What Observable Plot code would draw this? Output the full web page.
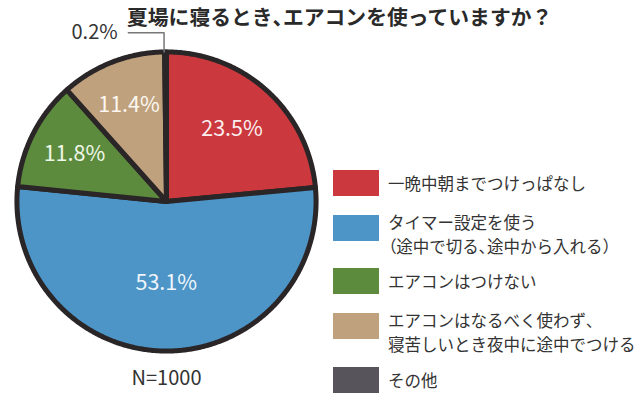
<!DOCTYPE html>
<html>
<head>
<meta charset="utf-8">
<script src="https://cdn.jsdelivr.net/npm/d3@7"></script>
<script src="https://cdn.jsdelivr.net/npm/@observablehq/plot@0.6"></script>
<style>
  body { margin: 0; background: #fff; font-family: "Noto Sans CJK JP", "Noto Sans", sans-serif; }
  #wrap { position: relative; width: 640px; height: 398px; overflow: hidden; background: #fff; }
  #chart { position: absolute; left: 0; top: 0; }
  #title { position: absolute; left: 127px; top: 1px; font-size: 20.8px; font-weight: 700; color: #2a2a2a; white-space: nowrap; }
  #legend { position: absolute; left: 333px; top: 170px; color: #333; font-size: 16.5px; }
  .item { position: absolute; left: 0; white-space: nowrap; }
  .sw { position: absolute; left: 0; width: 46px; height: 26px; }
  .lab { position: absolute; left: 55px; line-height: 24px; }
  .p { font-feature-settings: "palt" 1; }
</style>
</head>
<body>
<div id="wrap">
  <div id="chart"></div>
  <div id="title"></div>
  <div id="legend"></div>
</div>
<script>
const title = "夏場に寝るとき、エアコンを使っていますか？";
const categories = ["一晩中朝までつけっぱなし", "タイマー設定を使う\n（途中で切る、途中から入れる）", "エアコンはつけない", "エアコンはなるべく使わず、\n寝苦しいとき夜中に途中でつける", "その他"];
const values = [23.5, 53.1, 11.8, 11.4, 0.2];
const valueLabels = ["23.5%", "53.1%", "11.8%", "11.4%", "0.2%"];
const colors = ["#cb383d", "#4d94c7", "#5d8b3e", "#c0a17d", "#57555b"];
const labelColors = ["#fbeeee", "#eef5fb", "#eef7e8", "#fbf7f0", "#333333"];
const caption = "N=1000";

// narrow punctuation (、 and opening paren) like the reference
const narrow = s => s.replace(/([、（])/g, '<span class="p">$1</span>');
document.getElementById("title").innerHTML = narrow(title);

// slice geometry from values (clockwise from 12 o'clock)
const total = d3.sum(values);
let acc = 0;
const slices = values.map((v, i) => {
  const a0 = acc / total * 2 * Math.PI;
  acc += v;
  const a1 = acc / total * 2 * Math.PI;
  return {i, cat: categories[i], v, a0, a1, mid: (a0 + a1) / 2};
});
const R = 0.984;
const pts = [];
for (const s of slices) {
  pts.push({cat: s.cat, x: 0, y: 0});
  const n = Math.max(2, Math.ceil((s.a1 - s.a0) / (Math.PI / 360)));
  for (let k = 0; k <= n; k++) {
    const a = s.a0 + (s.a1 - s.a0) * k / n;
    pts.push({cat: s.cat, x: R * Math.sin(a), y: R * Math.cos(a)});
  }
}
const inLabels = slices.filter(s => s.v >= 5).map(s => {
  const r = 0.72 - 0.34 * s.v / 100;
  return {x: r * Math.sin(s.mid), y: r * Math.cos(s.mid), t: valueLabels[s.i], c: labelColors[s.i]};
});
const small = slices.filter(s => s.v < 5).map(s => ({s, x: R * Math.sin(s.mid - 0.01), y: R * Math.cos(s.mid)}));
const leader = [];
small.forEach((p, j) => {
  leader.push({g: j, x: p.x, y: p.y}, {g: j, x: p.x, y: 1.11}, {g: j, x: p.x - 0.235, y: 1.11});
});
const outLabels = small.map(p => ({x: p.x - 0.305, y: 1.11, t: valueLabels[p.s.i]}));

const plot = Plot.plot({
  width: 640,
  height: 398,
  marginLeft: 14,
  marginRight: 322,
  marginTop: 49,
  marginBottom: 45,
  x: {domain: [-1, 1], axis: null},
  y: {domain: [-1, 1], axis: null},
  color: {domain: categories, range: colors},
  style: {fontFamily: "Noto Sans CJK JP, Noto Sans, sans-serif", overflow: "visible"},
  marks: [
    Plot.line(pts, {x: "x", y: "y", z: "cat", fill: "cat", stroke: "#2a2527", strokeWidth: 5, strokeLinejoin: "round", curve: "linear-closed"}),
    Plot.text(inLabels, {x: "x", y: "y", text: "t", fill: d => d.c, fontSize: 21.5}),
    Plot.line(leader, {x: "x", y: "y", z: "g", stroke: "#777", strokeWidth: 1.5}),
    Plot.text(outLabels, {x: "x", y: "y", text: "t", textAnchor: "end", fill: "#333", fontSize: 20}),
    Plot.text([caption], {x: 0, y: -1, text: d => d, dy: 17, lineAnchor: "top", fill: "#333", fontSize: 20})
  ]
});
document.getElementById("chart").appendChild(plot);

// legend (HTML, colours from the same scale)
const legend = document.getElementById("legend");
const swTops = [0, 45, 98, 143, 197];
categories.forEach((c, i) => {
  const item = document.createElement("div");
  item.className = "item";
  item.style.top = swTops[i] + "px";
  const sw = document.createElement("div");
  sw.className = "sw";
  sw.style.background = plot.scale("color").apply(c);
  const lab = document.createElement("div");
  lab.className = "lab";
  const lines = c.split("\n");
  lab.style.top = (lines.length > 1 ? -5 : 1) + "px";
  lab.innerHTML = lines.map(l => `<div>${narrow(l)}</div>`).join("");
  item.appendChild(sw);
  item.appendChild(lab);
  legend.appendChild(item);
});
</script>
</body>
</html>
